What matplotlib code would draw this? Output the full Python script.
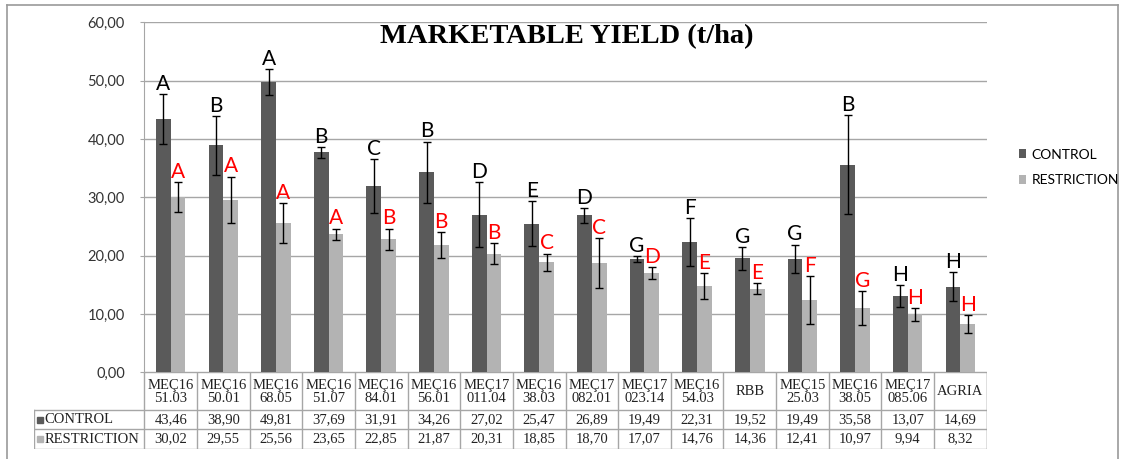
import numpy as np
import matplotlib
matplotlib.use('Agg')
import matplotlib.pyplot as plt
from matplotlib.ticker import FuncFormatter

# data
genotypes = ['MEÇ16\n51.03', 'MEÇ16\n50.01', 'MEÇ16\n68.05', 'MEÇ16\n51.07', 'MEÇ16\n84.01',
             'MEÇ16\n56.01', 'MEÇ17\n011.04', 'MEÇ16\n38.03', 'MEÇ17\n082.01', 'MEÇ17\n023.14',
             'MEÇ16\n54.03', 'RBB', 'MEÇ15\n25.03', 'MEÇ16\n38.05', 'MEÇ17\n085.06', 'AGRIA']
control = [43.46, 38.90, 49.81, 37.69, 31.91, 34.26, 27.02, 25.47, 26.89, 19.49,
           22.31, 19.52, 19.49, 35.58, 13.07, 14.69]
restriction = [30.02, 29.55, 25.56, 23.65, 22.85, 21.87, 20.31, 18.85, 18.70, 17.07,
               14.76, 14.36, 12.41, 10.97, 9.94, 8.32]
control_err = [4.3, 5.0, 2.2, 0.9, 4.6, 5.3, 5.6, 3.9, 1.3, 0.5, 4.1, 1.9, 2.4, 8.5, 1.9, 2.5]
restriction_err = [2.6, 4.0, 3.4, 1.0, 1.8, 2.2, 1.8, 1.5, 4.3, 1.0, 2.2, 0.9, 4.1, 2.9, 1.1, 1.5]
control_letters = list('ABABCBDEDGFGGBHH')
restriction_letters = list('AAAABBBCCDEEFGHH')

c_col = '#5a5a5a'
r_col = '#b3b3b3'
line_col = '#a6a6a6'
sans = 'Lato'
serif = 'Liberation Serif'

W, H = 1124, 459
fig = plt.figure(figsize=(W / 100, H / 100), dpi=100)

def fx(px):
    return px / W

def fy(py):
    return 1 - py / H

# plot area in pixels
x0, x1, ytop, ybot = 144.3, 986.7, 22.3, 372.3
ax = fig.add_axes([fx(x0), fy(ybot), fx(x1 - x0), fy(ytop) - fy(ybot)])

n = len(genotypes)
x = np.arange(n)
w = 0.28
err_kw = dict(ecolor='black', elinewidth=1, capsize=3, capthick=1)
ax.bar(x - w / 2, control, w, color=c_col, yerr=control_err, error_kw=err_kw, label='CONTROL', zorder=2)
ax.bar(x + w / 2, restriction, w, color=r_col, yerr=restriction_err, error_kw=err_kw, label='RESTRICTION', zorder=2)

for i in range(n):
    ax.annotate(control_letters[i], (x[i] - w / 2, control[i] + control_err[i]), xytext=(0, 3),
                textcoords='offset points', ha='center', va='baseline', fontsize=15,
                family=sans, color='black')
    ax.annotate(restriction_letters[i], (x[i] + w / 2, restriction[i] + restriction_err[i]), xytext=(0, 3),
                textcoords='offset points', ha='center', va='baseline', fontsize=15,
                family=sans, color='#ff0000')

ax.set_xlim(-0.5, n - 0.5)
ax.set_ylim(0, 60)
ax.set_yticks(np.arange(0, 61, 10))
ax.yaxis.set_major_formatter(FuncFormatter(lambda v, p: f'{v:.2f}'.replace('.', ',')))
ax.grid(axis='y', color=line_col, linewidth=1, zorder=0)
ax.set_xticks([])
for s in ['top', 'right', 'bottom']:
    ax.spines[s].set_visible(False)
ax.spines['left'].set_color(line_col)
ax.tick_params(axis='y', length=3, color=line_col, pad=11, labelsize=10.5, labelcolor='#333333')
for lab in ax.get_yticklabels():
    lab.set_family(sans)

fig.text(fx(567), fy(43), 'MARKETABLE YIELD (t/ha)', ha='center', va='baseline',
         fontsize=20.5, fontweight='bold', family=serif)

leg = fig.legend(loc='center left', bbox_to_anchor=(fx(1006), fy(167.5)), frameon=False,
                 handlelength=0.55, handleheight=0.55, handletextpad=0.4, labelspacing=1.0,
                 prop={'family': sans, 'size': 10})

# data table under the plot
tl = 34.3
cw = (x1 - x0) / n
rows = [372.3, 410.0, 429.3, 449.0]
tax = fig.add_axes([fx(tl), fy(rows[-1]), fx(x1 - tl), fy(rows[0]) - fy(rows[-1])])
left = -0.5 - (x0 - tl) / cw
tax.set_xlim(left, n - 0.5)
tax.set_ylim(rows[-1], rows[0])
tax.axis('off')
lk = dict(color=line_col, linewidth=1)
# horizontal lines
tax.plot([-0.5, n - 0.5], [rows[0], rows[0]], **lk)
for r in rows[1:]:
    tax.plot([left, n - 0.5], [r, r], **lk)
# vertical lines
for i in range(n + 1):
    tax.plot([i - 0.5, i - 0.5], [rows[0], rows[-1]], **lk)
tax.plot([left, left], [rows[1], rows[-1]], **lk)
tax.plot([n - 0.5, n - 0.5], [rows[0], rows[-1]], **lk)

tk = dict(family=serif, fontsize=10.5, ha='center', va='center', color='#222222')
for i in range(n):
    tax.text(x[i], (rows[0] + rows[1]) / 2 + 0.5, genotypes[i], linespacing=1.0, **tk)
    tax.text(x[i], (rows[1] + rows[2]) / 2, f'{control[i]:.2f}'.replace('.', ','), **tk)
    tax.text(x[i], (rows[2] + rows[3]) / 2, f'{restriction[i]:.2f}'.replace('.', ','), **tk)

for lbl, col, (ra, rb) in [('CONTROL', c_col, (rows[1], rows[2])), ('RESTRICTION', r_col, (rows[2], rows[3]))]:
    ym = (ra + rb) / 2
    tax.plot([left + 0.1], [ym], marker='s', markersize=5, color=col, linestyle='none')
    tax.text(left + 0.2, ym, lbl, family=serif, fontsize=10.5, ha='left', va='center', color='#222222')

# outer chart border
bk = dict(color='#9a9a9a', linewidth=1.2, transform=fig.transFigure)
fig.add_artist(plt.Line2D([fx(7), fx(7)], [fy(4.5), 0], **bk))
fig.add_artist(plt.Line2D([fx(7), fx(1118)], [fy(4.5), fy(4.5)], **bk))
fig.add_artist(plt.Line2D([fx(1118), fx(1118)], [fy(4.5), 0], **bk))

fig.savefig('out.png', dpi=100)
